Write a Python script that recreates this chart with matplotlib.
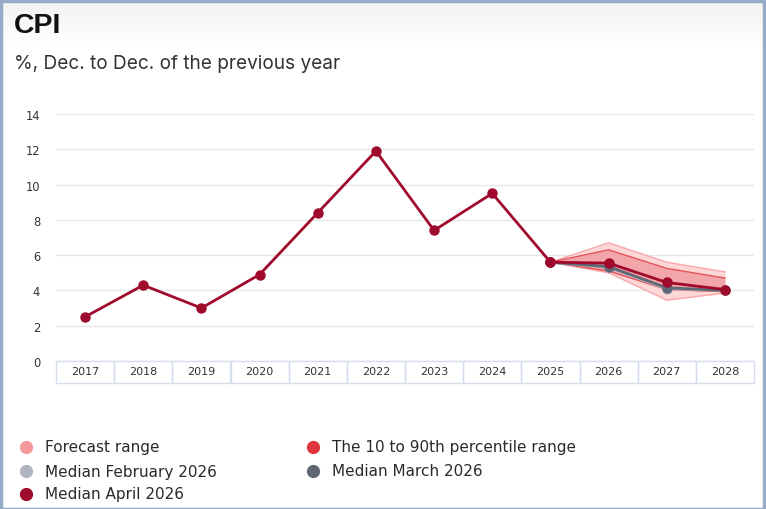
import numpy as np
import matplotlib
matplotlib.use("Agg")
import matplotlib.pyplot as plt
from matplotlib.patches import Rectangle
from matplotlib.lines import Line2D

# Data
years = ["2017", "2018", "2019", "2020", "2021", "2022",
         "2023", "2024", "2025", "2026", "2027", "2028"]
actual = [2.5, 4.3, 3.0, 4.9, 8.4, 11.9, 7.4, 9.5, 5.6]

forecast_years = ["2025", "2026", "2027", "2028"]
range_low = [5.6, 5.0, 3.45, 3.85]
range_high = [5.6, 6.7, 5.6, 5.05]
pct_low = [5.6, 5.1, 4.05, 3.93]
pct_high = [5.6, 6.3, 5.25, 4.7]
median_feb = [5.6, 5.3, 4.1, 4.0]
median_mar = [5.6, 5.35, 4.15, 4.0]
median_apr = [5.6, 5.55, 4.45, 4.05]

yticks = [0, 2, 4, 6, 8, 10, 12, 14]

# colours
c_apr = "#a00a2d"
c_mar = "#5f6775"
c_feb = "#b0b6c0"
c_range = "#f59a9c"
c_pct = "#e0353d"
grid_c = "#e8e8e8"
cell_c = "#d6deec"

W, H = 766, 510
fig = plt.figure(figsize=(W / 100, H / 100), dpi=100)
fig.patch.set_facecolor("white")

# light gradient at the top of the card
bg = fig.add_axes([0, 1 - 45 / H, 1, 45 / H], zorder=-5)
grad = np.linspace(0.945, 1.0, 100).reshape(-1, 1)
bg.imshow(np.dstack([grad, grad, grad]), aspect="auto", extent=[0, 1, 0, 1])
bg.axis("off")

# main axes
x0, x1 = 56, 754
ytop, ybot = 115, 362
ax = fig.add_axes([x0 / W, (H - ybot) / H, (x1 - x0) / W, (ybot - ytop) / H])
ax.set_facecolor("none")

x = np.arange(len(years))
fx = np.array([years.index(y) for y in forecast_years])

ax.set_xlim(-0.5, len(years) - 0.5)
ax.set_ylim(0, 14)

for yv in yticks:
    ax.axhline(yv, color=grid_c, lw=1, zorder=0)

# forecast range (light) and percentile range (darker)
ax.fill_between(fx, range_low, range_high, color="#fdd6d6", lw=0, zorder=1)
ax.plot(fx, range_low, color="#f8a8aa", lw=1, zorder=1.2)
ax.plot(fx, range_high, color="#f8a8aa", lw=1, zorder=1.2)
ax.fill_between(fx, pct_low, pct_high, color="#f2a6aa", lw=0, zorder=1.5)
ax.plot(fx, pct_low, color="#e5525a", lw=1, zorder=1.7)
ax.plot(fx, pct_high, color="#e5525a", lw=1, zorder=1.7)

ax.plot(fx, median_feb, color=c_feb, lw=2, marker="o", ms=6.5, zorder=2)
ax.plot(fx, median_mar, color=c_mar, lw=2, marker="o", ms=6.5, zorder=3)
ax.plot(fx, median_apr, color=c_apr, lw=2, marker="o", ms=6.5, zorder=4)
ax.plot(x[:len(actual)], actual, color=c_apr, lw=2, marker="o", ms=6.5, zorder=4)

# category cells under the axis
for i in x:
    ax.add_patch(Rectangle((i - 0.5, 0), 1, -22 / (ybot - ytop) * 14,
                           transform=ax.transData, facecolor="none",
                           edgecolor=cell_c, lw=1, clip_on=False, zorder=5))
    ax.text(i, -10.5 / (ybot - ytop) * 14, years[i], ha="center", va="center",
            fontsize=8, color="#333333", clip_on=False)

ax.set_xticks([])
ax.set_yticks(yticks)
ax.set_yticklabels([str(v) for v in yticks], fontsize=8.3, color="#333333")
ax.tick_params(axis="y", length=0, pad=11.5)
for s in ax.spines.values():
    s.set_visible(False)

# titles
fig.text(14 / W, 1 - 26 / H, "CPI", fontsize=20.5, fontweight="bold",
         family=["Liberation Sans", "DejaVu Sans"], color="#111111",
         ha="left", va="center")
fig.text(14 / W, 1 - 64 / H, "%, Dec. to Dec. of the previous year",
         fontsize=13.7, family=["Inter", "DejaVu Sans"],
         color="#333333", ha="left", va="center")

# legend drawn by hand
legend_items = [
    (26, 448, c_range, "Forecast range"),
    (313, 448, c_pct, "The 10 to 90th percentile range"),
    (26, 472, c_feb, "Median February 2026"),
    (313, 472, c_mar, "Median March 2026"),
    (26, 495, c_apr, "Median April 2026"),
]
for lx, ly, col, label in legend_items:
    fig.add_artist(Line2D([lx / W], [1 - ly / H], marker="o", ms=8.5,
                          color=col, lw=0, transform=fig.transFigure))
    fig.text((lx + 19) / W, 1 - ly / H, label, fontsize=11,
             family=["DejaVu Sans"], color="#2a2a2a", ha="left", va="center")

# screenshot frame
fig.add_artist(Rectangle((0.5 / W, 0.5 / H), 1 - 3 / W, 1 - 2 / H,
                         transform=fig.transFigure, facecolor="none",
                         edgecolor="#95abc8", lw=2.5))

fig.savefig("out.png", dpi=100, facecolor="white")
